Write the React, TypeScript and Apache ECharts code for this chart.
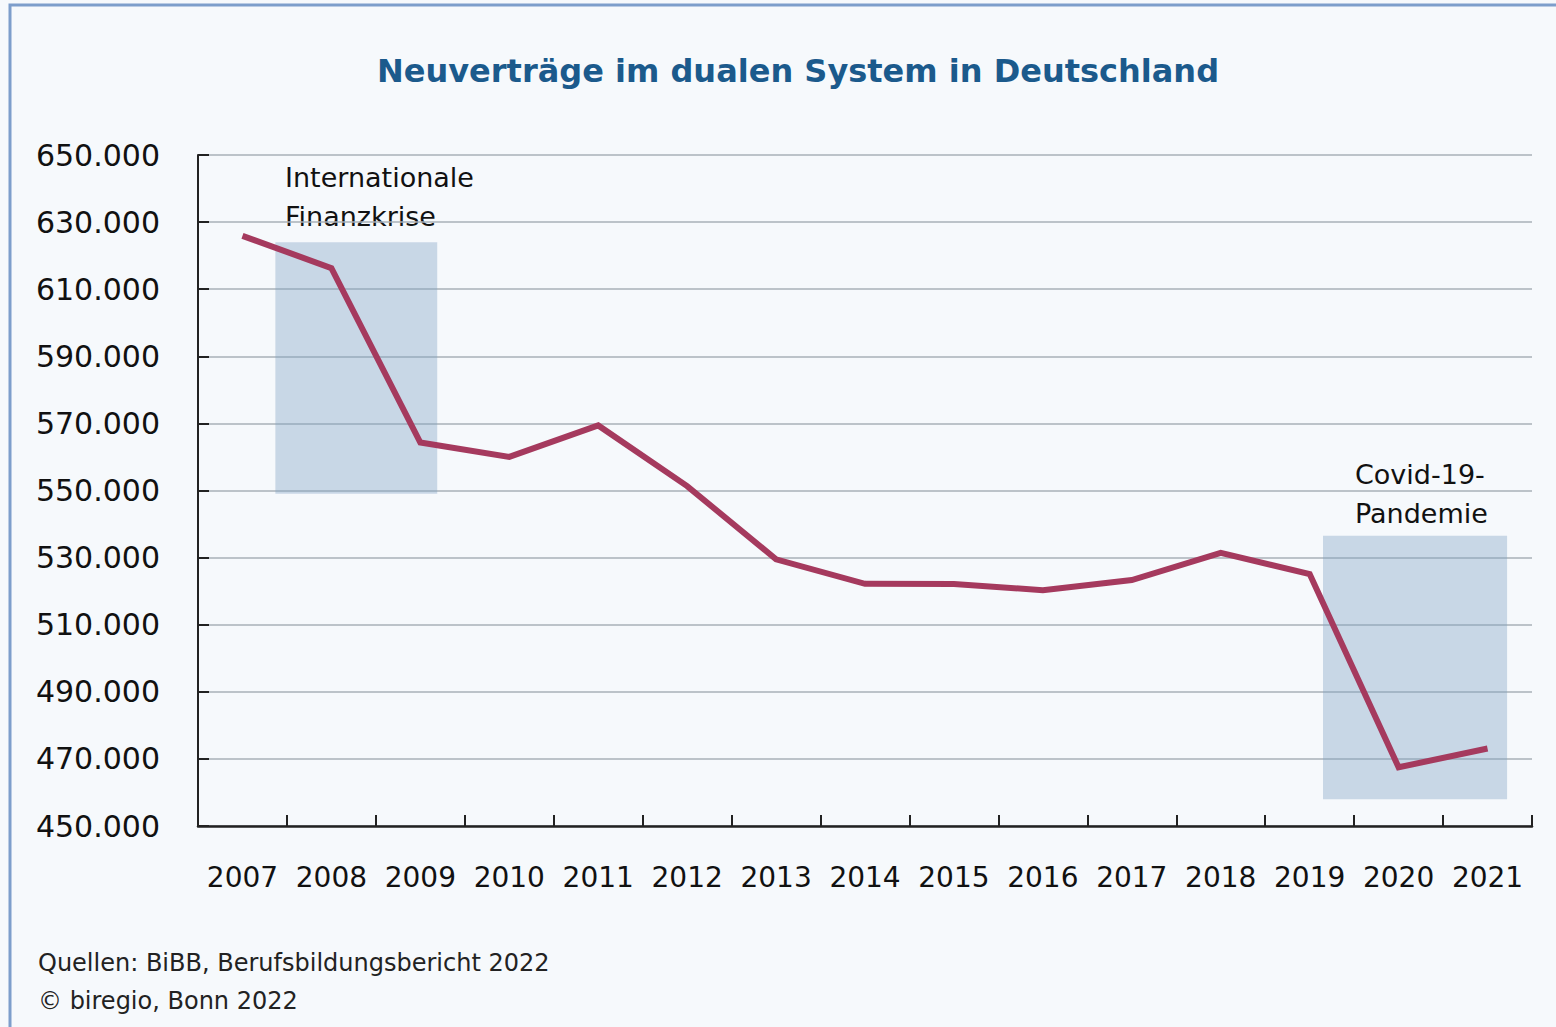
import React, { useEffect, useRef } from "react";
import * as echarts from "echarts";

const years = ["2007","2008","2009","2010","2011","2012","2013","2014","2015","2016","2017","2018","2019","2020","2021"];
const contracts = [625900, 616300, 564300, 560000, 569400, 551300, 529500, 522200, 522100, 520300, 523300, 531400, 525100, 467500, 473100];
// shaded periods: [xStartIndex, xEndIndex, yLow, yHigh]
const crisisBands = [
  [0.37, 2.19, 549000, 624000],
  [12.15, 14.22, 458000, 536500],
];
const yMin = 450000;
const yMax = 650000;
const yStep = 20000;
const titleText = "Neuverträge im dualen System in Deutschland";
const sourceLines = ["Quellen: BiBB, Berufsbildungsbericht 2022", "© biregio, Bonn 2022"];

const FONT = "'DejaVu Sans', 'Noto Sans', sans-serif";

export default function App() {
  const ref = useRef<HTMLDivElement>(null);
  useEffect(() => {
    if (!ref.current) return;
    const chart = echarts.init(ref.current, null, { renderer: "svg" });
    const fmt = (v: number) => String(v).replace(/\B(?=(\d{3})+(?!\d))/g, ".");
    chart.setOption({
      animation: false,
      backgroundColor: "#f6f9fc",
      textStyle: { fontFamily: FONT },
      title: {
        text: titleText,
        left: 793,
        top: 50,
        textAlign: "center",
        textStyle: { color: "#1b5a8c", fontSize: 32, fontWeight: "bold", fontFamily: FONT },
      },
      grid: { left: 198, right: 24, top: 155, bottom: 201 },
      xAxis: [
        {
          type: "category",
          data: years,
          boundaryGap: true,
          axisLine: { show: true, onZero: false, lineStyle: { color: "#222", width: 2.5 } },
          axisTick: { show: true, inside: true, interval: 0, length: 11, alignWithLabel: false, lineStyle: { color: "#222", width: 2 } },
          axisLabel: { show: true, color: "#111", fontSize: 28, margin: 37, interval: 0, fontFamily: FONT },
          splitLine: { show: false },
        },
        {
          type: "value",
          min: -0.5,
          max: 14.5,
          show: false,
        },
      ],
      yAxis: {
        type: "value",
        min: yMin,
        max: yMax,
        interval: yStep,
        axisLine: { show: true, onZero: false, lineStyle: { color: "#222", width: 2 } },
        axisTick: { show: true, inside: true, length: 11, lineStyle: { color: "#222", width: 2 } },
        axisLabel: { color: "#111", fontSize: 30, margin: 38, formatter: fmt, fontFamily: FONT },
        splitLine: { show: true, lineStyle: { color: "#a9b0b8", width: 1.5 } },
      },
      series: [
        {
          type: "custom",
          xAxisIndex: 1,
          yAxisIndex: 0,
          silent: true,
          z: 1,
          data: crisisBands,
          renderItem: (params: any, api: any) => {
            const p0 = api.coord([api.value(0), api.value(3)]);
            const p1 = api.coord([api.value(1), api.value(2)]);
            return {
              type: "rect",
              shape: { x: p0[0], y: p0[1], width: p1[0] - p0[0], height: p1[1] - p0[1] },
              style: { fill: "rgba(125,160,195,0.38)" },
            };
          },
        },
        {
          type: "line",
          data: contracts,
          symbol: "none",
          z: 3,
          lineStyle: { color: "#a53a5e", width: 6, join: "miter" },
        },
      ],
      graphic: [
        {
          type: "rect",
          shape: { x: 10, y: 5, width: 1600, height: 1100 },
          style: { fill: "none", stroke: "#7d9ecb", lineWidth: 3 },
          silent: true,
          z: 100,
        },
        {
          type: "text",
          left: 285,
          top: 158,
          style: { text: "Internationale\nFinanzkrise", fontSize: 27, lineHeight: 39, fill: "#111", fontFamily: FONT },
        },
        {
          type: "text",
          left: 1355,
          top: 455,
          style: { text: "Covid-19-\nPandemie", fontSize: 27, lineHeight: 39, fill: "#111", fontFamily: FONT },
        },
        {
          type: "text",
          left: 38,
          top: 944,
          style: { text: sourceLines.join("\n"), fontSize: 24, lineHeight: 38, fill: "#222", fontFamily: FONT },
        },
      ],
    });
    return () => chart.dispose();
  }, []);
  return (
    <div
      ref={ref}
      style={{ position: "fixed", left: 0, top: 0, width: 1556, height: 1027 }}
    />
  );
}
